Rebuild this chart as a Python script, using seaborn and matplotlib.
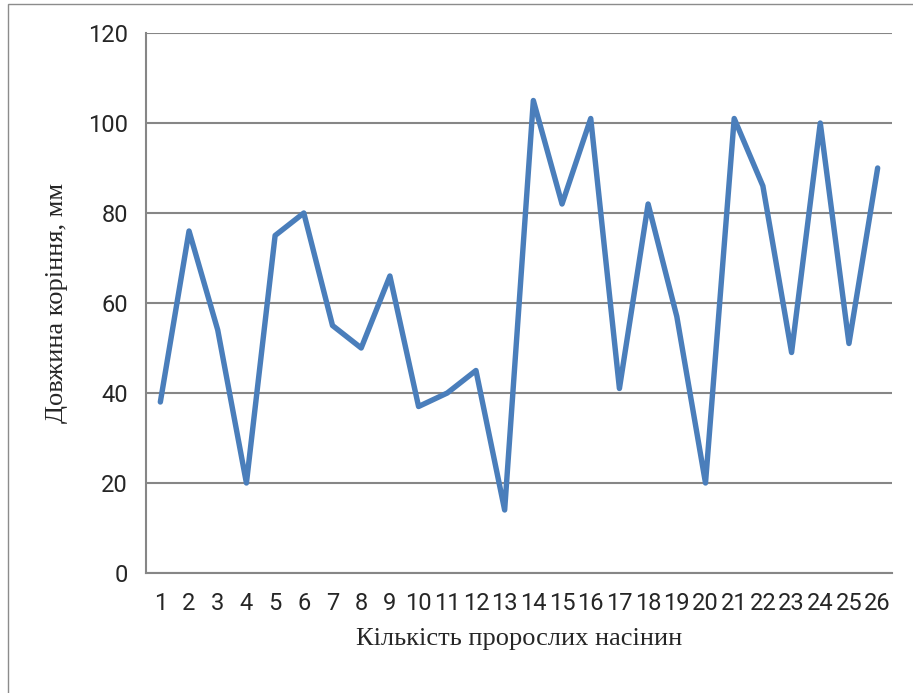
import matplotlib
matplotlib.use("Agg")
import matplotlib.pyplot as plt
from matplotlib.patches import Rectangle
from matplotlib.ticker import FixedLocator
import seaborn as sns
import pandas as pd

seed_numbers = list(range(1, 27))
root_length_mm = [38, 76, 54, 20, 75, 80, 55, 50, 66, 37, 40, 45, 14,
                  105, 82, 101, 41, 82, 57, 20, 101, 86, 49, 100, 51, 90]
y_ticks = [0, 20, 40, 60, 80, 100, 120]

x_title = "Кількість пророслих насінин"
y_title = "Довжина коріння, мм"

df = pd.DataFrame({"seed": seed_numbers, "length": root_length_mm})

sns.set_style("white")
tick_font = ["Roboto", "DejaVu Sans"]
label_font = ["Liberation Serif", "DejaVu Serif"]

fig = plt.figure(figsize=(9.13, 6.93), dpi=100)
# thin frame around the chart area
fig.patches.append(Rectangle((8 / 913, -0.01), 1.02, 1 - 4 / 693 + 0.01,
                             transform=fig.transFigure, fill=False,
                             edgecolor="#8c8c8c", linewidth=1.0))
ax = fig.add_axes([146 / 913, 120 / 693, 746 / 913, 540 / 693])

sns.lineplot(data=df, x="seed", y="length", ax=ax, color="#4A7EBB",
             linewidth=3.9, solid_joinstyle="round", solid_capstyle="round")

grid_c = "#868686"
ax.set_xlim(0.5, 26.5)
ax.set_ylim(0, 120)
ax.set_yticks(y_ticks)
ax.yaxis.grid(True, color=grid_c, linewidth=1.5)
ax.set_axisbelow(True)
for s in ["top", "right"]:
    ax.spines[s].set_visible(False)
for s in ["left", "bottom"]:
    ax.spines[s].set_color(grid_c)
    ax.spines[s].set_linewidth(1.5)

ax.set_xticks(seed_numbers)
ax.set_xticklabels([str(v) for v in seed_numbers], fontsize=17, family=tick_font)
ax.xaxis.set_minor_locator(FixedLocator([i + 0.5 for i in range(0, 27)]))
ax.tick_params(axis="x", which="major", length=0, pad=14)
ax.tick_params(axis="x", which="minor", length=8, width=1.5, color=grid_c, direction="out")
ax.tick_params(axis="y", length=8, width=1.5, color=grid_c, direction="out", pad=5)
for t in ax.get_yticklabels():
    t.set_fontsize(17)
    t.set_family(tick_font)

ax.set_xlabel(x_title, fontsize=19, family=label_font, labelpad=9)
ax.set_ylabel(y_title, fontsize=19, family=label_font, labelpad=14)

fig.savefig("out.png", dpi=100)
